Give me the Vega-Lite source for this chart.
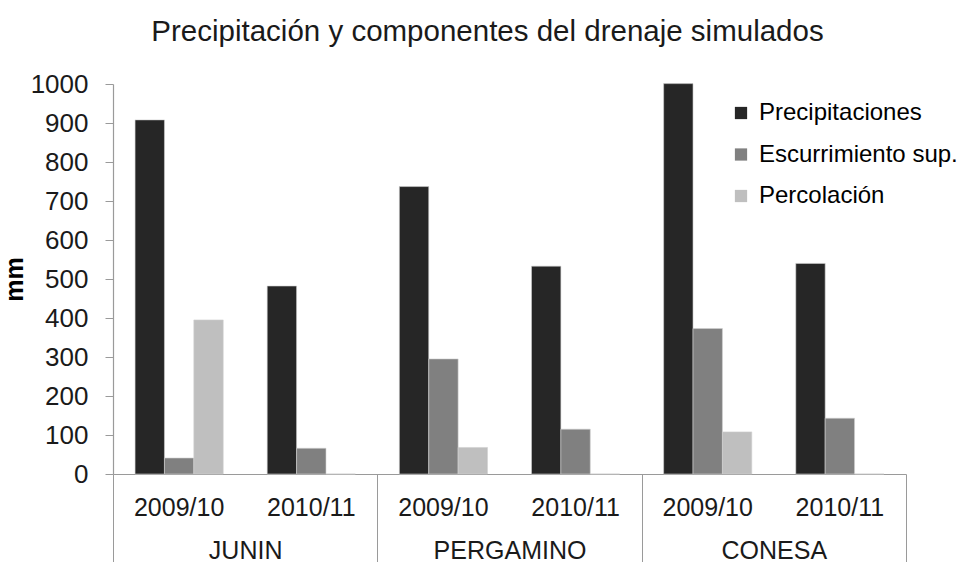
{
  "$schema": "https://vega.github.io/schema/vega-lite/v6.json",
  "width": 793,
  "height": 390,
  "autosize": {"type": "none"},
  "padding": {"left": 113, "top": 84, "right": 51, "bottom": 88},
  "background": "white",
  "config": {
    "font": "Liberation Sans",
    "view": {"stroke": null}
  },
  "title": {
    "text": "Precipitación y componentes del drenaje simulados",
    "orient": "top",
    "frame": "group",
    "fontSize": 29.5,
    "fontWeight": "normal",
    "color": "#1a1a1a",
    "anchor": "middle",
    "dx": -22,
    "dy": -10,
    "offset": 14
  },
  "data": {
    "values": [
      {"region": "JUNIN", "year": "2009/10", "cat": "JUNIN|2009/10", "series": "Precipitaciones", "value": 908},
      {"region": "JUNIN", "year": "2009/10", "cat": "JUNIN|2009/10", "series": "Escurrimiento sup.", "value": 41},
      {"region": "JUNIN", "year": "2009/10", "cat": "JUNIN|2009/10", "series": "Percolación", "value": 395},
      {"region": "JUNIN", "year": "2010/11", "cat": "JUNIN|2010/11", "series": "Precipitaciones", "value": 482},
      {"region": "JUNIN", "year": "2010/11", "cat": "JUNIN|2010/11", "series": "Escurrimiento sup.", "value": 66},
      {"region": "JUNIN", "year": "2010/11", "cat": "JUNIN|2010/11", "series": "Percolación", "value": 0},
      {"region": "PERGAMINO", "year": "2009/10", "cat": "PERGAMINO|2009/10", "series": "Precipitaciones", "value": 737},
      {"region": "PERGAMINO", "year": "2009/10", "cat": "PERGAMINO|2009/10", "series": "Escurrimiento sup.", "value": 295},
      {"region": "PERGAMINO", "year": "2009/10", "cat": "PERGAMINO|2009/10", "series": "Percolación", "value": 68},
      {"region": "PERGAMINO", "year": "2010/11", "cat": "PERGAMINO|2010/11", "series": "Precipitaciones", "value": 533},
      {"region": "PERGAMINO", "year": "2010/11", "cat": "PERGAMINO|2010/11", "series": "Escurrimiento sup.", "value": 115},
      {"region": "PERGAMINO", "year": "2010/11", "cat": "PERGAMINO|2010/11", "series": "Percolación", "value": 0},
      {"region": "CONESA", "year": "2009/10", "cat": "CONESA|2009/10", "series": "Precipitaciones", "value": 1001},
      {"region": "CONESA", "year": "2009/10", "cat": "CONESA|2009/10", "series": "Escurrimiento sup.", "value": 373},
      {"region": "CONESA", "year": "2009/10", "cat": "CONESA|2009/10", "series": "Percolación", "value": 108},
      {"region": "CONESA", "year": "2010/11", "cat": "CONESA|2010/11", "series": "Precipitaciones", "value": 540},
      {"region": "CONESA", "year": "2010/11", "cat": "CONESA|2010/11", "series": "Escurrimiento sup.", "value": 143},
      {"region": "CONESA", "year": "2010/11", "cat": "CONESA|2010/11", "series": "Percolación", "value": 0}
    ]
  },
  "layer": [
    {
      "mark": {"type": "bar", "stroke": "#d0d0d0", "strokeWidth": 0.6},
      "encoding": {
        "x": {
          "field": "cat",
          "type": "nominal",
          "sort": ["JUNIN|2009/10", "JUNIN|2010/11", "PERGAMINO|2009/10", "PERGAMINO|2010/11", "CONESA|2009/10", "CONESA|2010/11"],
          "scale": {"paddingInner": 0.333, "paddingOuter": 0.167},
          "axis": {
            "title": null,
            "labelExpr": "split(datum.value, '|')[1]",
            "labelAngle": 0,
            "labelFontSize": 25,
            "labelColor": "#1a1a1a",
            "labelPadding": 21,
            "labelOverlap": false,
            "ticks": false,
            "domainColor": "#9a9a9a",
            "domainWidth": 1.2
          }
        },
        "xOffset": {
          "field": "series",
          "type": "nominal",
          "sort": ["Precipitaciones", "Escurrimiento sup.", "Percolación"],
          "scale": {"paddingInner": 0, "paddingOuter": 0}
        },
        "y": {
          "field": "value",
          "type": "quantitative",
          "scale": {"domain": [0, 1000], "nice": false},
          "axis": {
            "title": "mm",
            "titleFontSize": 25,
            "titleFontWeight": "bold",
            "titleColor": "#000",
            "titlePadding": 3,
            "values": [0, 100, 200, 300, 400, 500, 600, 700, 800, 900, 1000],
            "tickCount": 12,
            "format": "d",
            "labelFontSize": 26,
            "labelColor": "#1a1a1a",
            "labelPadding": 17,
            "labelOverlap": false,
            "labelFlush": false,
            "tickSize": 8,
            "tickColor": "#9a9a9a",
            "domainColor": "#9a9a9a",
            "domainWidth": 1.2,
            "grid": false
          }
        },
        "color": {
          "field": "series",
          "type": "nominal",
          "sort": ["Precipitaciones", "Escurrimiento sup.", "Percolación"],
          "scale": {
            "domain": ["Precipitaciones", "Escurrimiento sup.", "Percolación"],
            "range": ["#262626", "#808080", "#bfbfbf"]
          },
          "legend": {
            "title": null,
            "orient": "none",
            "legendX": 616,
            "legendY": 17,
            "symbolType": "square",
            "symbolSize": 150,
            "symbolStrokeWidth": 0,
            "labelFontSize": 24,
            "labelLimit": 400,
            "labelColor": "#000",
            "labelOffset": 6,
            "rowPadding": 17.5
          }
        }
      }
    },
    {
      "mark": {"type": "bar", "opacity": 0},
      "encoding": {
        "x": {
          "field": "region",
          "type": "nominal",
          "sort": ["JUNIN", "PERGAMINO", "CONESA"],
          "scale": {"paddingInner": 0, "paddingOuter": 0},
          "axis": {
            "title": null,
            "orient": "bottom",
            "labelAngle": 0,
            "labelFontSize": 25,
            "labelColor": "#1a1a1a",
            "labelPadding": -26,
            "tickBand": "extent",
            "tickSize": 90,
            "tickColor": "#9a9a9a",
            "domain": false
          }
        }
      }
    }
  ],
  "resolve": {"scale": {"x": "independent", "xOffset": "independent"}, "axis": {"x": "independent"}}
}
